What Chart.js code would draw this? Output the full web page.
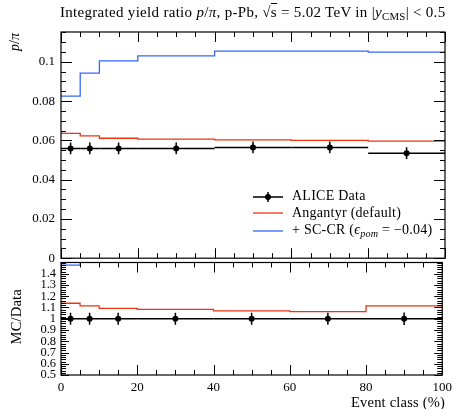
<!DOCTYPE html>
<html>
<head>
<meta charset="utf-8">
<script src="https://cdn.jsdelivr.net/npm/chart.js@4.4.1/dist/chart.umd.min.js"></script>
<style>
html,body{margin:0;padding:0;background:#fff;}
body{width:457px;height:409px;position:relative;overflow:hidden;font-family:"Liberation Serif","DejaVu Serif",serif;color:#000;}
canvas{position:absolute;left:0;}
#cMain{top:0;}
#cRatio{top:250px;}
.lbl{position:absolute;white-space:nowrap;line-height:1;}
.sub{font-size:72%;position:relative;top:3px;}
.ov{border-top:1px solid #000;padding-top:0px;}
#title{left:60px;top:5px;font-size:15px;letter-spacing:0.3px;}
.vert{writing-mode:vertical-rl;transform:rotate(180deg);}
#ylabMain{left:8px;top:33px;font-size:14px;}
#ylabRatio{left:9px;top:289px;font-size:14.5px;letter-spacing:0.2px;}
#xlab{right:12px;top:395px;font-size:14.5px;letter-spacing:0.2px;}
.leg{left:292px;font-size:14px;letter-spacing:0.25px;}
</style>
</head>
<body>
<canvas id="cMain" width="457" height="272"></canvas>
<canvas id="cRatio" width="457" height="159"></canvas>

<div class="lbl" id="title">Integrated yield ratio <i>p</i>/<i>π</i>, p-Pb, √<span class="ov">s</span> = 5.02 TeV in |<i>y</i><span class="sub">CMS</span>| &lt; 0.5</div>
<div class="lbl vert" id="ylabMain"><i>p</i>/<i>π</i></div>
<div class="lbl vert" id="ylabRatio">MC/Data</div>
<div class="lbl" id="xlab">Event class (%)</div>
<div class="lbl leg" style="top:189px">ALICE Data</div>
<div class="lbl leg" style="top:206px">Angantyr (default)</div>
<div class="lbl leg" style="top:223px">+ SC-CR (<i>ϵ</i><span class="sub"><i>pom</i></span> = −0.04)</div>

<script>
// Event-class bins (%), multiplicity classes from high to low
const binEdges = [0, 5, 10, 20, 40, 60, 80, 100];
const binCenters = [2.5, 7.5, 15, 30, 50, 70, 90];

// p/pi ratio, ALICE measurement and its uncertainty
const aliceValues = [0.0559, 0.0559, 0.0559, 0.0559, 0.0564, 0.0564, 0.0535];
const aliceErrors = [0.0030, 0.0030, 0.0030, 0.0030, 0.0030, 0.0030, 0.0030];

// Model predictions
const angantyrValues = [0.0636, 0.0623, 0.0611, 0.0606, 0.0603, 0.0600, 0.0596];
const sccrValues = [0.0825, 0.0943, 0.1005, 0.1030, 0.1055, 0.1055, 0.1049];

// Axis ticks
const xTickValues = [0, 20, 40, 60, 80, 100];
const xTickLabels = ['0', '20', '40', '60', '80', '100'];
const yTickValues = [0, 0.02, 0.04, 0.06, 0.08, 0.1];
const yTickLabels = ['0', '0.02', '0.04', '0.06', '0.08', '0.1'];
const rTickValues = [0.5, 0.6, 0.7, 0.8, 0.9, 1.0, 1.1, 1.2, 1.3, 1.4];
const rTickLabels = ['0.5', '0.6', '0.7', '0.8', '0.9', '1', '1.1', '1.2', '1.3', '1.4'];

const RED = '#EE3311';
const BLUE = '#3366FF';
const FONT = '"Liberation Serif", "DejaVu Serif", serif';

// histogram as step line: one point per bin low edge, plus the final edge
function histPoints(values) {
  return binEdges.map((e, i) => ({ x: e, y: values[Math.min(i, values.length - 1)] }));
}
function ratio(values) {
  return values.map((v, i) => v / aliceValues[i]);
}

// frame with inward ticks on all four sides
const frameTicks = {
  id: 'frameTicks',
  afterDatasetsDraw(chart, args, o) {
    const { ctx, chartArea: a, scales: { x, y } } = chart;
    ctx.save();
    ctx.strokeStyle = '#000';
    ctx.lineWidth = 1;
    ctx.beginPath();
    for (let k = 0; k <= 20; k++) {
      const v = k * 5;
      const px = Math.round(x.getPixelForValue(v)) + 0.5;
      const L = (v % 20 === 0) ? 10 : 5;
      ctx.moveTo(px, a.top); ctx.lineTo(px, a.top + L);
      ctx.moveTo(px, a.bottom); ctx.lineTo(px, a.bottom - L);
    }
    const n = Math.round((o.yMax - o.yMin) / o.yMinor);
    for (let k = 0; k <= n; k++) {
      const v = o.yMin + k * o.yMinor;
      if (v > y.max + 1e-9) break;
      const py = Math.round(y.getPixelForValue(v)) + 0.5;
      const major = o.yMajor.some(m => Math.abs(m - v) < 1e-9);
      const L = major ? o.majorLen : o.minorLen;
      ctx.moveTo(a.left, py); ctx.lineTo(a.left + L, py);
      ctx.moveTo(a.right, py); ctx.lineTo(a.right - L, py);
    }
    ctx.stroke();
    ctx.lineWidth = 1.2;
    ctx.strokeRect(a.left, a.top, a.right - a.left, a.bottom - a.top);
    ctx.restore();
  }
};

// data points: horizontal bar over the bin width plus vertical uncertainty
const errorBars = {
  id: 'errorBars',
  afterDatasetsDraw(chart, args, o) {
    const { ctx, scales: { x, y } } = chart;
    ctx.save();
    ctx.strokeStyle = '#000';
    ctx.fillStyle = '#000';
    ctx.lineWidth = 1.5;
    o.values.forEach((v, i) => {
      const py = y.getPixelForValue(v);
      const px = x.getPixelForValue(binCenters[i]);
      ctx.beginPath();
      ctx.moveTo(x.getPixelForValue(binEdges[i]), py);
      ctx.lineTo(x.getPixelForValue(binEdges[i + 1]), py);
      ctx.moveTo(px, y.getPixelForValue(v - o.errors[i]));
      ctx.lineTo(px, y.getPixelForValue(v + o.errors[i]));
      ctx.stroke();
      ctx.beginPath();
      ctx.arc(px, py, 3, 0, Math.PI * 2);
      ctx.fill();
    });
    ctx.restore();
  }
};

// legend samples next to the legend text
const legendSamples = {
  id: 'legendSamples',
  afterDraw(chart) {
    const { ctx, chartArea: a } = chart;
    const x0 = a.right - 192, x1 = a.right - 162;
    const rows = [
      { y: a.top + 165, color: '#000', w: 1.5, dot: true },
      { y: a.top + 181, color: RED, w: 1.3 },
      { y: a.top + 199, color: BLUE, w: 1.3 }
    ];
    ctx.save();
    rows.forEach(r => {
      ctx.strokeStyle = r.color;
      ctx.lineWidth = r.w;
      ctx.beginPath();
      ctx.moveTo(x0, r.y); ctx.lineTo(x1, r.y);
      if (r.dot) {
        const xm = (x0 + x1) / 2;
        ctx.moveTo(xm, r.y - 5); ctx.lineTo(xm, r.y + 5);
      }
      ctx.stroke();
      if (r.dot) {
        ctx.fillStyle = '#000';
        ctx.beginPath();
        ctx.arc((x0 + x1) / 2, r.y, 3, 0, Math.PI * 2);
        ctx.fill();
      }
    });
    ctx.restore();
  }
};

function lineDataset(points, color) {
  return {
    type: 'line', data: points, borderColor: color, borderWidth: 1.3,
    stepped: true, pointRadius: 0, fill: false, tension: 0
  };
}

const tickFont = { family: FONT, size: 13 };

new Chart(document.getElementById('cMain'), {
  type: 'line',
  data: {
    datasets: [
      lineDataset(histPoints(angantyrValues), RED),
      lineDataset(histPoints(sccrValues), BLUE)
    ]
  },
  options: {
    responsive: false, animation: false, events: [],
    layout: { padding: { left: 0, right: 12, top: 32, bottom: 12 } },
    plugins: {
      legend: { display: false }, tooltip: { enabled: false },
      frameTicks: { yMin: 0, yMax: 0.12, yMinor: 0.005, yMajor: yTickValues, majorLen: 11, minorLen: 5 },
      errorBars: { values: aliceValues, errors: aliceErrors }
    },
    scales: {
      x: { type: 'linear', min: 0, max: 100, display: false },
      y: {
        type: 'linear', min: 0, max: 0.1152,
        grid: { display: false, drawTicks: false }, border: { display: false },
        ticks: { padding: 6, autoSkip: false, color: '#000', font: tickFont,
                 callback: (v, i) => yTickLabels[i] },
        afterBuildTicks: s => { s.ticks = yTickValues.map(v => ({ value: v })); },
        afterFit: s => { s.width = 61; }
      }
    }
  },
  plugins: [frameTicks, errorBars, legendSamples]
});

new Chart(document.getElementById('cRatio'), {
  type: 'line',
  data: {
    datasets: [
      lineDataset(histPoints(ratio(angantyrValues)), RED),
      lineDataset(histPoints(ratio(sccrValues)), BLUE)
    ]
  },
  options: {
    responsive: false, animation: false, events: [],
    layout: { padding: { left: 0, right: 12, top: 10, bottom: 0 } },
    plugins: {
      legend: { display: false }, tooltip: { enabled: false },
      frameTicks: { yMin: 0.5, yMax: 1.5, yMinor: 0.02, yMajor: rTickValues, majorLen: 8, minorLen: 5 },
      errorBars: { values: aliceValues.map(() => 1), errors: aliceErrors.map((e, i) => e / aliceValues[i]) }
    },
    scales: {
      x: {
        type: 'linear', min: 0, max: 100,
        grid: { display: false, drawTicks: false }, border: { display: false },
        ticks: { padding: 5, autoSkip: false, maxRotation: 0, color: '#000', font: tickFont,
                 callback: (v, i) => xTickLabels[i] },
        afterBuildTicks: s => { s.ticks = xTickValues.map(v => ({ value: v })); },
        afterFit: s => { s.height = 34; }
      },
      y: {
        type: 'linear', min: 0.5, max: 1.5,
        grid: { display: false, drawTicks: false }, border: { display: false },
        ticks: { padding: 5, autoSkip: false, color: '#000', font: { family: FONT, size: 12.5 },
                 callback: (v, i) => rTickLabels[i] },
        afterBuildTicks: s => { s.ticks = rTickValues.map(v => ({ value: v })); },
        afterFit: s => { s.width = 61; }
      }
    }
  },
  plugins: [frameTicks, errorBars]
});
</script>
</body>
</html>
